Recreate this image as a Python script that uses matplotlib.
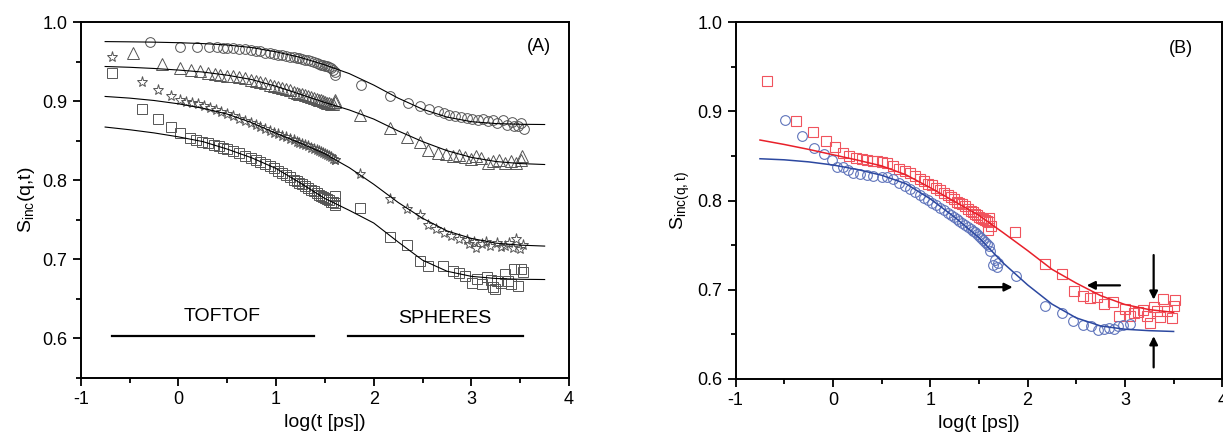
import matplotlib
matplotlib.use("Agg")
import matplotlib.pyplot as plt

plt.rcParams['font.family'] = ['Liberation Sans', 'DejaVu Sans']
plt.rcParams['mathtext.default'] = 'regular'
plt.rcParams['axes.unicode_minus'] = False

# dense TOFTOF grid (log t) shared by all series
tof_x = [0.50, 0.56, 0.62, 0.68, 0.74, 0.79, 0.84, 0.89, 0.94, 0.98, 1.02, 1.06,
         1.10, 1.14, 1.18, 1.21, 1.24, 1.27, 1.30, 1.33, 1.36, 1.39, 1.42, 1.44,
         1.46, 1.48, 1.50, 1.52, 1.54, 1.56, 1.58, 1.60]

# ---------- panel A ----------
circ_early_x = [-0.29, 0.017, 0.188, 0.31, 0.40, 0.46]
circ_early_y = [0.9755, 0.9692, 0.9692, 0.9688, 0.9683, 0.9679]
circ_tof_y = [0.9676, 0.9672, 0.9667, 0.9660, 0.9650, 0.9640, 0.9630, 0.9617, 0.9606, 0.9597,
              0.9590, 0.9582, 0.9574, 0.9566, 0.9558, 0.9551, 0.9545, 0.9537, 0.9528, 0.9518,
              0.9507, 0.9495, 0.9482, 0.9473, 0.9465, 0.9457, 0.9448, 0.9440, 0.9430, 0.9415,
              0.9395, 0.9370]
circ_sph_x = [1.604, 1.868, 2.169, 2.349, 2.47, 2.568, 2.658, 2.717, 2.775, 2.834, 2.893, 2.952,
              3.010, 3.069, 3.116, 3.167, 3.225, 3.264, 3.323, 3.362, 3.413, 3.440, 3.480,
              3.507, 3.538]
circ_sph_y = [0.9335, 0.9212, 0.9064, 0.8972, 0.8946, 0.8904, 0.8875, 0.8854, 0.8832, 0.8811,
              0.8803, 0.8790, 0.8778, 0.8761, 0.8778, 0.8748, 0.8761, 0.8727, 0.8769, 0.8706,
              0.8736, 0.8693, 0.8685, 0.8719, 0.8651]

tri_early_x = [-0.461, -0.171, 0.017, 0.13, 0.22, 0.30, 0.37, 0.43]
tri_early_y = [0.9615, 0.9473, 0.9419, 0.9398, 0.9377, 0.9362, 0.9350, 0.9338]
tri_tof_y = [0.9325, 0.9314, 0.9303, 0.9290, 0.9275, 0.9261, 0.9245, 0.9228, 0.9210, 0.9197,
             0.9183, 0.9168, 0.9153, 0.9138, 0.9122, 0.9110, 0.9097, 0.9087, 0.9076, 0.9064,
             0.9052, 0.9040, 0.9028, 0.9020, 0.9010, 0.9000, 0.8990, 0.8980, 0.8972, 0.8965,
             0.8970, 0.8990]
tri_sph_x = [1.60, 1.856, 2.169, 2.337, 2.47, 2.56, 2.658, 2.736, 2.815, 2.873, 2.932, 2.991,
             3.049, 3.100, 3.167, 3.225, 3.284, 3.343, 3.401, 3.460, 3.507, 3.519]
tri_sph_y = [0.9018, 0.8832, 0.8664, 0.8550, 0.8483, 0.8381, 0.8348, 0.8327, 0.8306, 0.8314,
             0.8297, 0.8272, 0.8306, 0.8285, 0.8221, 0.8242, 0.8263, 0.8221, 0.8242, 0.8221,
             0.8255, 0.8306]

star_early_x = [-0.683, -0.376, -0.205, -0.078, 0.017, 0.08, 0.14, 0.20, 0.26, 0.32, 0.38, 0.44]
star_early_y = [0.9558, 0.9238, 0.9145, 0.9069, 0.9019, 0.8995, 0.8980, 0.8962, 0.8940, 0.8915,
                0.8890, 0.8862]
star_tof_y = [0.8835, 0.8809, 0.8781, 0.8752, 0.8722, 0.8697, 0.8672, 0.8647, 0.8622, 0.8603,
              0.8583, 0.8563, 0.8544, 0.8524, 0.8504, 0.8489, 0.8474, 0.8460, 0.8445, 0.8429,
              0.8413, 0.8397, 0.8381, 0.8370, 0.8359, 0.8347, 0.8336, 0.8322, 0.8308, 0.8292,
              0.8275, 0.8255]
star_sph_x = [1.606, 1.864, 2.169, 2.345, 2.47, 2.56, 2.638, 2.717, 2.795, 2.873, 2.952, 2.98,
              3.03, 3.05, 3.108, 3.15, 3.186, 3.264, 3.30, 3.343, 3.38, 3.421, 3.46, 3.499, 3.53]
star_sph_y = [0.8263, 0.8074, 0.7758, 0.7631, 0.7555, 0.7441, 0.7378, 0.7336, 0.7294, 0.7260,
              0.7243, 0.7195, 0.7218, 0.7150, 0.7189, 0.7225, 0.7168, 0.7201, 0.7155, 0.7168,
              0.7205, 0.7147, 0.7252, 0.7134, 0.7185]

sq_early_x = [-0.683, -0.376, -0.205, -0.078, 0.017, 0.119, 0.18, 0.24, 0.30, 0.36, 0.42, 0.46]
sq_early_y = [0.9356, 0.8901, 0.8775, 0.8674, 0.8598, 0.8535, 0.8512, 0.8490, 0.8470, 0.8452,
              0.8430, 0.8412]
sq_tof_y = [0.8392, 0.8367, 0.8340, 0.8312, 0.8283, 0.8258, 0.8232, 0.8206, 0.8176, 0.8150,
            0.8123, 0.8096, 0.8068, 0.8038, 0.8010, 0.7990, 0.7970, 0.7949, 0.7927, 0.7905,
            0.7883, 0.7860, 0.7835, 0.7820, 0.7805, 0.7790, 0.7773, 0.7758, 0.7745, 0.7732,
            0.7720, 0.7710]
sq_sph_x = [1.60, 1.60, 1.864, 2.169, 2.345, 2.47, 2.56, 2.705, 2.815, 2.873, 2.932, 3.010,
            3.061, 3.108, 3.155, 3.20, 3.225, 3.245, 3.264, 3.304, 3.343, 3.37, 3.401, 3.44,
            3.48, 3.507, 3.53]
sq_sph_y = [0.7800, 0.7694, 0.7652, 0.7286, 0.7176, 0.6978, 0.6915, 0.6915, 0.6851, 0.6830,
            0.6788, 0.6704, 0.6746, 0.6683, 0.6780, 0.6740, 0.6653, 0.6620, 0.6725, 0.6704,
            0.6809, 0.6720, 0.6683, 0.6873, 0.6662, 0.6881, 0.6840]

fit_x = [-0.75, -0.5, -0.25, 0, 0.25, 0.5, 0.75, 1, 1.25, 1.5, 1.75, 2, 2.25, 2.5, 2.75, 3,
         3.25, 3.5, 3.75]
fit_circ = [0.9755, 0.9752, 0.9748, 0.9741, 0.9730, 0.9712, 0.9680, 0.9625, 0.9555, 0.9460,
            0.9350, 0.9205, 0.9040, 0.8900, 0.8800, 0.8742, 0.8718, 0.8709, 0.8706]
fit_tri = [0.9440, 0.9430, 0.9415, 0.9395, 0.9370, 0.9330, 0.9275, 0.9190, 0.9088, 0.8985,
           0.8890, 0.8775, 0.8625, 0.8490, 0.8375, 0.8290, 0.8238, 0.8212, 0.8200]
fit_star = [0.9061, 0.9040, 0.9010, 0.8968, 0.8912, 0.8838, 0.8730, 0.8595, 0.8470, 0.8335,
            0.8160, 0.7950, 0.7720, 0.7520, 0.7360, 0.7265, 0.7205, 0.7180, 0.7168]
fit_sq = [0.8674, 0.8640, 0.8600, 0.8550, 0.8490, 0.8395, 0.8285, 0.8150, 0.7965, 0.7770,
          0.7620, 0.7460, 0.7220, 0.6990, 0.6850, 0.6785, 0.6758, 0.6748, 0.6745]

# ---------- panel B ----------
blue_early_x = [-0.493, -0.322, -0.192, -0.093, -0.014, 0.044, 0.106, 0.157, 0.202, 0.277,
                0.346, 0.414]
blue_early_y = [0.890, 0.8726, 0.8588, 0.8524, 0.8457, 0.8380, 0.8375, 0.8345, 0.8315, 0.8300,
                0.8289, 0.8278]
blue_tof_y = [0.8268, 0.8262, 0.8240, 0.8202, 0.8165, 0.8130, 0.8098, 0.8064, 0.8030, 0.8002,
              0.7975, 0.7947, 0.7920, 0.7892, 0.7860, 0.7838, 0.7815, 0.7793, 0.7770, 0.7747,
              0.7725, 0.7705, 0.7682, 0.7665, 0.7645, 0.7625, 0.7605, 0.7585, 0.7562, 0.7540,
              0.7515, 0.7490]
blue_sph_x = [1.613, 1.647, 1.664, 1.682, 1.698, 1.877, 2.178, 2.35, 2.469, 2.566, 2.648, 2.72,
              2.784, 2.839, 2.887, 2.931, 2.983, 3.052]
blue_sph_y = [0.7430, 0.7280, 0.7337, 0.7255, 0.7300, 0.7150, 0.6821, 0.6740, 0.6645, 0.6608,
              0.6590, 0.6552, 0.6564, 0.6571, 0.6560, 0.6590, 0.6600, 0.6616]

red_early_x = [-0.682, -0.380, -0.203, -0.075, 0.020, 0.099, 0.167, 0.236, 0.294, 0.352, 0.408,
               0.455]
red_early_y = [0.9346, 0.8897, 0.8770, 0.8673, 0.8600, 0.8540, 0.8500, 0.8483, 0.8468, 0.8457,
               0.8450, 0.8443]
red_tof_y = [0.8435, 0.8418, 0.8390, 0.8355, 0.8335, 0.8308, 0.8280, 0.8248, 0.8218, 0.8192,
             0.8170, 0.8143, 0.8115, 0.8085, 0.8060, 0.8040, 0.8015, 0.7990, 0.7973, 0.7958,
             0.7935, 0.7910, 0.7888, 0.7872, 0.7855, 0.7838, 0.7822, 0.7808, 0.7795, 0.7785,
             0.7775, 0.7765]
red_sph_x = [1.596, 1.606, 1.62, 1.873, 2.178, 2.356, 2.476, 2.566, 2.641, 2.716, 2.784, 2.874,
             2.942, 3.0, 3.052, 3.095, 3.137, 3.182, 3.223, 3.257, 3.298, 3.33, 3.36, 3.394,
             3.435, 3.48, 3.50, 3.514]
red_sph_y = [0.7673, 0.7800, 0.7720, 0.7654, 0.7289, 0.7180, 0.6982, 0.6926, 0.6907, 0.6919,
             0.6844, 0.6858, 0.6709, 0.6784, 0.6709, 0.6740, 0.6746, 0.6777, 0.6702, 0.6627,
             0.6813, 0.6760, 0.6694, 0.6896, 0.6765, 0.6683, 0.6820, 0.6888]

fitB_x = [-0.75, -0.5, -0.25, 0, 0.25, 0.5, 0.75, 1, 1.25, 1.5, 1.75, 2, 2.25, 2.5, 2.75, 3,
          3.25, 3.5]
fit_red = [0.8680, 0.8630, 0.8575, 0.8515, 0.8455, 0.8390, 0.8290, 0.8145, 0.7990, 0.7835,
           0.7640, 0.7440, 0.7230, 0.7075, 0.6935, 0.6835, 0.6778, 0.6747]
fit_blue = [0.8470, 0.8458, 0.8435, 0.8400, 0.8350, 0.8285, 0.8190, 0.8020, 0.7815, 0.7585,
            0.7300, 0.7055, 0.6840, 0.6685, 0.6595, 0.6558, 0.6542, 0.6533]

fig = plt.figure(figsize=(12.23, 4.41), dpi=100)
axA = fig.add_axes([0.066, 0.143, 0.3993, 0.8066])
axB = fig.add_axes([0.6015, 0.1406, 0.3979, 0.8088])

grey = '#555555'
mk = dict(ls='none', mfc='none', mec=grey, mew=0.7)
for ex, ey, ty, sx, sy, m, ms in [
        (circ_early_x, circ_early_y, circ_tof_y, circ_sph_x, circ_sph_y, 'o', 7),
        (tri_early_x, tri_early_y, tri_tof_y, tri_sph_x, tri_sph_y, '^', 8),
        (star_early_x, star_early_y, star_tof_y, star_sph_x, star_sph_y, '*', 8),
        (sq_early_x, sq_early_y, sq_tof_y, sq_sph_x, sq_sph_y, 's', 6.5)]:
    axA.plot(ex + tof_x + sx, ey + ty + sy, marker=m, ms=ms, **mk)
for fy in [fit_circ, fit_tri, fit_star, fit_sq]:
    axA.plot(fit_x, fy, color='k', lw=0.8)

axA.plot([-0.676, 1.39], [0.603, 0.603], color='k', lw=1.6)
axA.plot([1.74, 3.53], [0.603, 0.603], color='k', lw=1.6)
axA.text(0.45, 0.628, 'TOFTOF', fontsize=14, ha='center', va='center')
axA.text(2.73, 0.625, 'SPHERES', fontsize=14, ha='center', va='center')
axA.text(3.69, 0.969, '(A)', fontsize=13, ha='center', va='center')
axA.set_ylim(0.55, 1.0)
axA.set_ylabel(r'$S_{inc}$(q,t)', fontsize=14)

red_m = '#f0535d'
blue_m = '#5f74bb'
axB.plot(red_early_x + tof_x + red_sph_x, red_early_y + red_tof_y + red_sph_y, ls='none',
         marker='s', ms=6.5, mfc='none', mec=red_m, mew=0.8)
axB.plot(blue_early_x + tof_x + blue_sph_x, blue_early_y + blue_tof_y + blue_sph_y, ls='none',
         marker='o', ms=7, mfc='none', mec=blue_m, mew=0.8)
axB.plot(fitB_x, fit_red, color='#e8202a', lw=1.1)
axB.plot(fitB_x, fit_blue, color='#2c48a0', lw=1.1)

arw = dict(arrowstyle='-|>', color='k', lw=1.6, mutation_scale=12, shrinkA=0, shrinkB=0)
axB.annotate('', xy=(1.846, 0.703), xytext=(1.50, 0.703), arrowprops=arw)
axB.annotate('', xy=(2.607, 0.705), xytext=(2.949, 0.705), arrowprops=arw)
axB.annotate('', xy=(3.295, 0.689), xytext=(3.295, 0.739), arrowprops=arw)
axB.annotate('', xy=(3.295, 0.648), xytext=(3.295, 0.613), arrowprops=arw)
axB.text(3.58, 0.971, '(B)', fontsize=13, ha='center', va='center')
axB.set_ylim(0.6, 1.0)
axB.set_ylabel(r'$S_{inc(q,t)}$', fontsize=14)

for ax in (axA, axB):
    ax.set_xlim(-1, 4)
    ax.set_xticks([-1, 0, 1, 2, 3, 4])
    ax.set_xticks([-0.5, 0.5, 1.5, 2.5, 3.5], minor=True)
    ax.set_yticks([0.6, 0.7, 0.8, 0.9, 1.0])
    ax.set_yticks([0.55, 0.65, 0.75, 0.85, 0.95], minor=True)
    ax.set_yticklabels(['0.6', '0.7', '0.8', '0.9', '1.0'])
    ax.set_xlabel('log(t [ps])', fontsize=14)
    ax.tick_params(which='major', direction='out', length=6, width=1.3, labelsize=13)
    ax.tick_params(which='minor', direction='out', length=3.5, width=1.3)
    for s in ax.spines.values():
        s.set_linewidth(1.4)

axA.set_ylim(0.55, 1.0)
axB.set_ylim(0.6, 1.0)

fig.savefig('out.png', dpi=100)
